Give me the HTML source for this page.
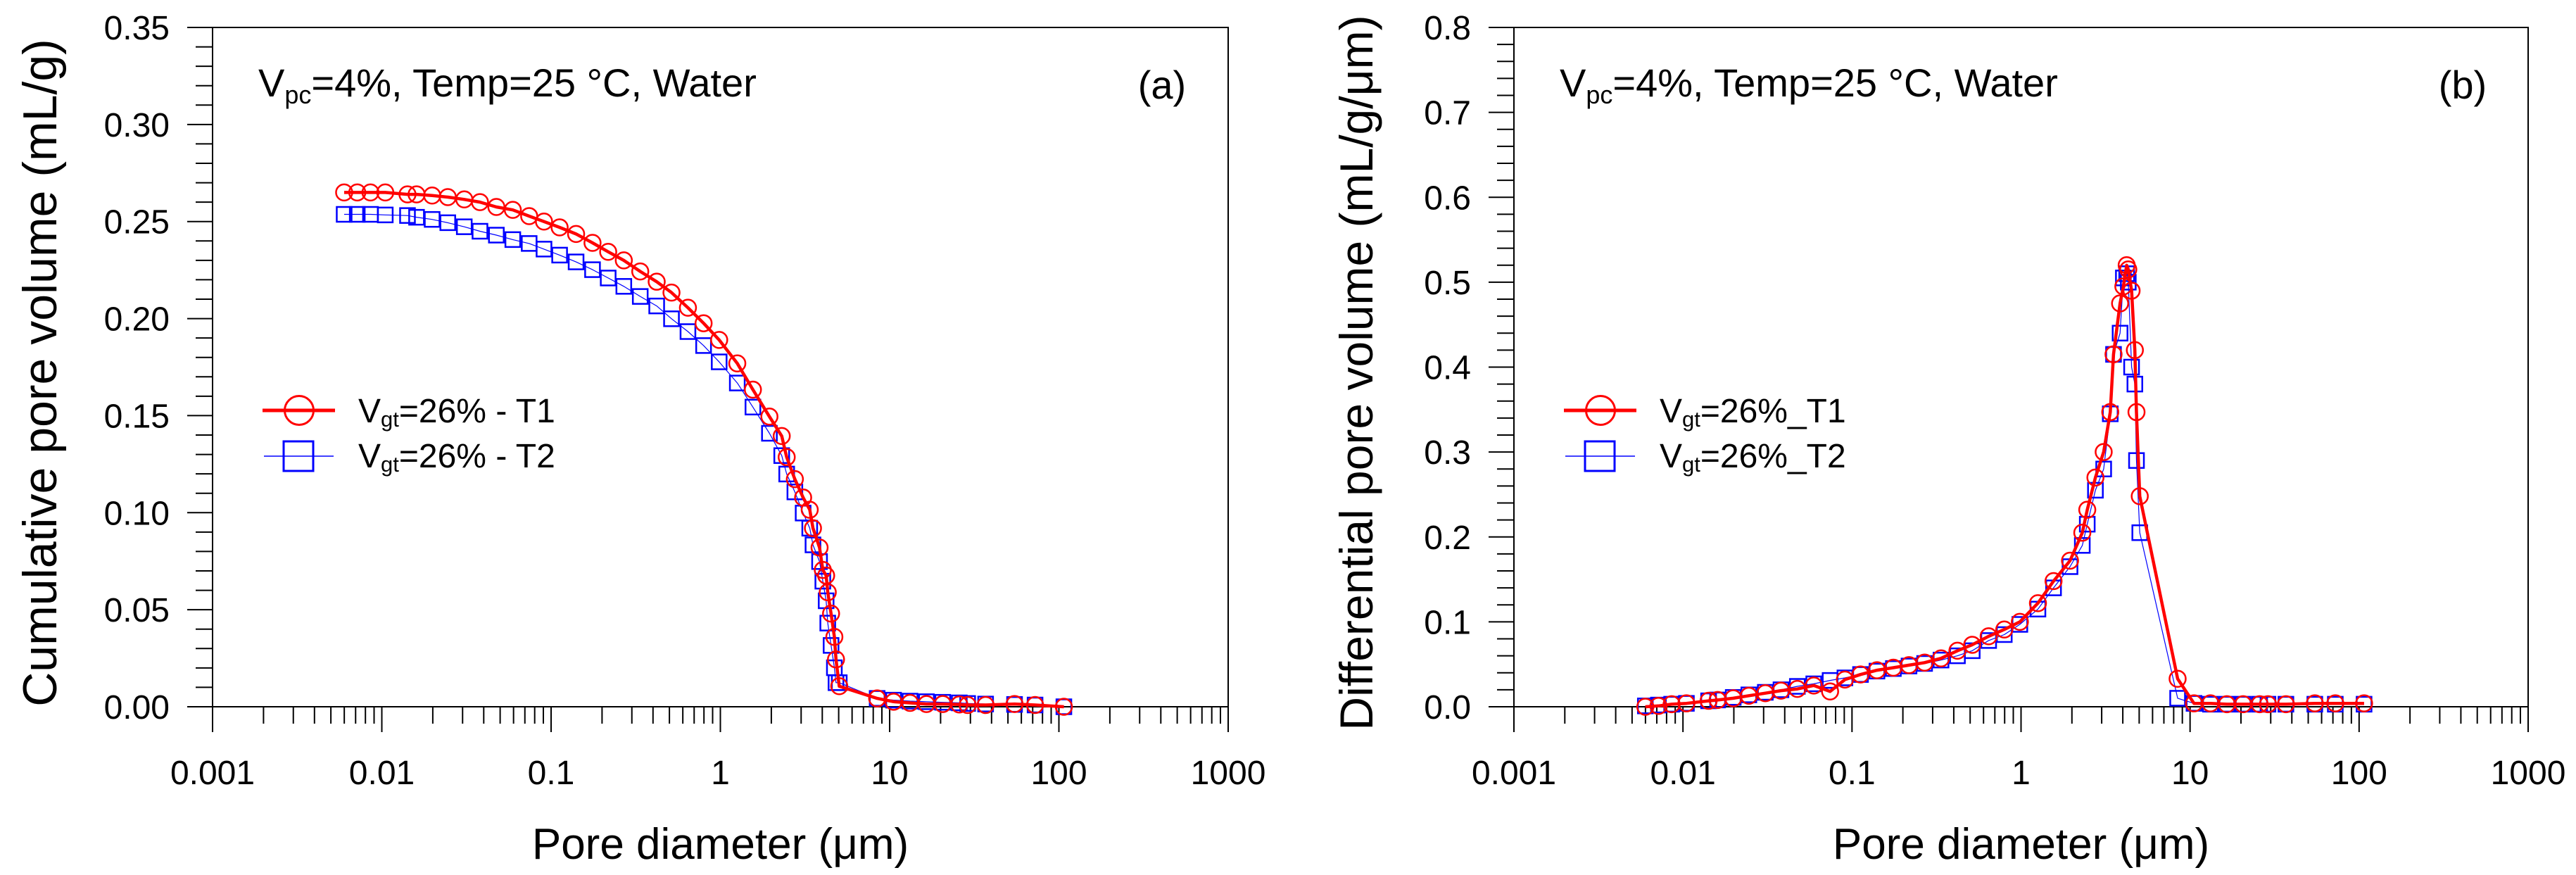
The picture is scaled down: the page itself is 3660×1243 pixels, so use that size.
<!DOCTYPE html>
<html><head><meta charset="utf-8"><style>
html,body{margin:0;padding:0;background:#fff;}
svg{display:block;font-family:"Liberation Sans",Arial,sans-serif;}
</style></head><body>
<svg id="chart" width="3660" height="1243" viewBox="0 0 3660 1243" xmlns="http://www.w3.org/2000/svg"></svg>
<script>
const poreDiameter = [0.00599,0.00716,0.00857,0.01048,0.01418,0.01604,0.01983,0.02453,0.0307,0.038,0.0475,0.0594,0.0742,0.0908,0.1123,0.1405,0.1757,0.2174,0.2689,0.3363,0.4206,0.5144,0.6434,0.796,0.984,1.259,1.557,1.949,2.304,2.465,2.755,3.083,3.372,3.525,3.855,4.03,4.216,4.31,4.508,4.715,4.82,5.04,8.44,10.55,13.2,16.5,20.6,25.8,28.9,36.9,54.7,72.3,107];
const cumT1 = [0.265,0.265,0.265,0.265,0.264,0.264,0.2634,0.2626,0.2614,0.260,0.2575,0.256,0.2528,0.250,0.247,0.2436,0.239,0.2344,0.230,0.2243,0.219,0.2134,0.2056,0.1976,0.189,0.1769,0.1634,0.1495,0.1395,0.1286,0.1173,0.1078,0.1015,0.092,0.082,0.0705,0.0676,0.059,0.048,0.036,0.0244,0.0106,0.0043,0.0026,0.002,0.0014,0.0014,0.0012,0.0009,0.0009,0.0014,0.0009,0.0];
const cumT2 = [0.2537,0.2537,0.2537,0.2534,0.2531,0.2522,0.2511,0.2494,0.2473,0.245,0.243,0.2407,0.2387,0.2358,0.2327,0.2292,0.2252,0.2209,0.2166,0.2114,0.2065,0.1999,0.1933,0.1861,0.1777,0.1668,0.1544,0.1409,0.1294,0.1199,0.1107,0.0998,0.092,0.0834,0.0748,0.0647,0.0546,0.0431,0.0316,0.0201,0.0124,0.0124,0.0043,0.0034,0.0029,0.0026,0.0023,0.002,0.0017,0.0014,0.0012,0.0009,0.0];
const difT1 = [0.0,0.001,0.003,0.004,0.007,0.008,0.010,0.013,0.016,0.019,0.021,0.025,0.018,0.032,0.038,0.043,0.046,0.049,0.052,0.057,0.066,0.073,0.083,0.091,0.100,0.122,0.148,0.172,0.205,0.232,0.27,0.30,0.347,0.415,0.475,0.495,0.52,0.515,0.49,0.42,0.347,0.248,0.033,0.004,0.004,0.003,0.003,0.003,0.003,0.003,0.004,0.004,0.004];
const difT2 = [0.001,0.002,0.003,0.004,0.007,0.008,0.011,0.014,0.017,0.020,0.024,0.027,0.031,0.034,0.038,0.042,0.045,0.048,0.051,0.055,0.060,0.066,0.078,0.085,0.097,0.115,0.140,0.165,0.190,0.215,0.255,0.28,0.345,0.415,0.44,0.505,0.51,0.50,0.40,0.38,0.29,0.205,0.010,0.004,0.003,0.003,0.003,0.003,0.003,0.003,0.003,0.003,0.003];
const xTickLabels = ["0.001","0.01","0.1","1","10","100","1000"];
const yTicksA = ["0.00","0.05","0.10","0.15","0.20","0.25","0.30","0.35"];
const yTicksB = ["0.0","0.1","0.2","0.3","0.4","0.5","0.6","0.7","0.8"];

const NS="http://www.w3.org/2000/svg";
const svg=document.getElementById('chart');
function mk(tag,attrs,parent){const e=document.createElementNS(NS,tag);for(const k in attrs)e.setAttribute(k,attrs[k]);(parent||svg).appendChild(e);return e;}

function panel(o){
  const g=mk('g',{});
  
  
  const L=o.left,R=o.right,T=39,B=1004;
  const xs=v=>L+(Math.log10(v)+3)/6*(R-L);
  const ys=v=>B-(v/o.ymax)*(B-T);
  const fr=mk('rect',{x:L,y:T,width:R-L,height:B-T,fill:'none',stroke:'#000','stroke-width':2},g);
  
  
  mk('line',{x1:L,y1:B,x2:L,y2:B+36,stroke:'#000','stroke-width':2},g);
  const nMinor=Math.round(o.ymax/o.minor);
  for(let i=0;i<=nMinor;i++){
    const v=i*o.minor,y=ys(v);
    const isMaj=Math.abs(v/o.major-Math.round(v/o.major))<1e-6;
    mk('line',{x1:L-(isMaj?36:24),y1:y,x2:L,y2:y,stroke:'#000','stroke-width':2},g);
  }
  o.yLabels.forEach((s,i)=>{
    const t=mk('text',{x:L-61,y:ys(i*o.major)+17,'font-size':48,'text-anchor':'end'},g);
    t.textContent=s;
    
    
  });
  for(let d=-3;d<3;d++){for(let m=1;m<10;m++){const x=xs(m*Math.pow(10,d));mk('line',{x1:x,y1:B,x2:x,y2:B+(m==1?36:24),stroke:'#000','stroke-width':2},g);}}
  mk('line',{x1:R,y1:B,x2:R,y2:B+36,stroke:'#000','stroke-width':2},g);
  xTickLabels.forEach((s,i)=>{
    const t=mk('text',{x:xs(Math.pow(10,i-3)),y:1114,'font-size':48,'text-anchor':'middle'},g);
    t.textContent=s;
    
    
  });
  const xt=mk('text',{x:(L+R)/2,y:1220,'font-size':62,'text-anchor':'middle'},g);
  xt.textContent='Pore diameter (μm)';
  
  
  const yt=mk('text',{x:0,y:0,'font-size':o.ytfs,'text-anchor':'middle',transform:`translate(${o.ytx},${(T+B)/2+8}) rotate(-90)`},g);
  yt.textContent=o.ytitle;
  
  
  const an=mk('text',{x:L+65,y:137,'font-size':56},g);
  an.innerHTML='V<tspan font-size="36" dy="10">pc</tspan><tspan dy="-10">=4%, Temp=25 °C, Water</tspan>';
  
  
  const pl=mk('text',{x:o.labelX,y:140,'font-size':56,'text-anchor':'middle'},g);
  pl.textContent=o.panelLabel;
  
  
  const clip='clip-'+o.name;
  const cp=mk('clipPath',{id:clip},g);mk('rect',{x:L,y:T,width:R-L,height:B-T+20},cp);
  function series(vals,color,lw,shape,nm){
    const sg=mk('g',{'clip-path':`url(#${clip})`},g);
    
    
    const pts=poreDiameter.map((x,i)=>xs(x).toFixed(1)+','+ys(vals[i]).toFixed(1)).join(' ');
    mk('polyline',{points:pts,fill:'none',stroke:color,'stroke-width':lw,'stroke-linejoin':'round'},sg);
    poreDiameter.forEach((x,i)=>{
      const cx=xs(x),cy=ys(vals[i]);
      if(shape=='c')mk('circle',{cx,cy,r:11.5,fill:'none',stroke:color,'stroke-width':2.5},sg);
      else mk('rect',{x:cx-10.5,y:cy-10.5,width:21,height:21,fill:'none',stroke:color,'stroke-width':2.5},sg);
    });
  }
  series(o.s2,'#0000ff',1.2,'s','series-t2');
  series(o.s1,'#ff0000',4.5,'c','series-t1');
  const lg=mk('g',{},g);
  
  
  const lx=L+71;
  mk('line',{x1:lx,y1:583,x2:lx+103,y2:583,stroke:'#ff0000','stroke-width':5},lg);
  mk('circle',{cx:lx+52,cy:583,r:20.5,fill:'none',stroke:'#ff0000','stroke-width':3},lg);
  mk('line',{x1:lx+2,y1:648,x2:lx+101,y2:648,stroke:'#0000ff','stroke-width':1.5},lg);
  mk('rect',{x:lx+30,y:627,width:42,height:42,fill:'none',stroke:'#0000ff','stroke-width':3},lg);
  [[600,o.leg[0]],[664,o.leg[1]]].forEach(([y,s])=>{
    const t=mk('text',{x:lx+136,y:y,'font-size':48},lg);
    t.innerHTML='V<tspan font-size="31" dy="6">gt</tspan><tspan dy="-6">'+s+'</tspan>';
    
    
  });
}
panel({name:'panel-a-cumulative',left:302,right:1745,ymax:0.35,major:0.05,minor:0.01,yLabels:yTicksA,ytitle:'Cumulative pore volume (mL/g)',ytx:80,ytfs:68,panelLabel:'(a)',labelX:1651,s1:cumT1,s2:cumT2,leg:['=26% - T1','=26% - T2']});
panel({name:'panel-b-differential',left:2151,right:3592,ymax:0.8,major:0.1,minor:0.02,yLabels:yTicksB,ytitle:'Differential pore volume (mL/g/μm)',ytx:1950,ytfs:66,panelLabel:'(b)',labelX:3499,s1:difT1,s2:difT2,leg:['=26%_T1','=26%_T2']});
</script>
</body></html>
